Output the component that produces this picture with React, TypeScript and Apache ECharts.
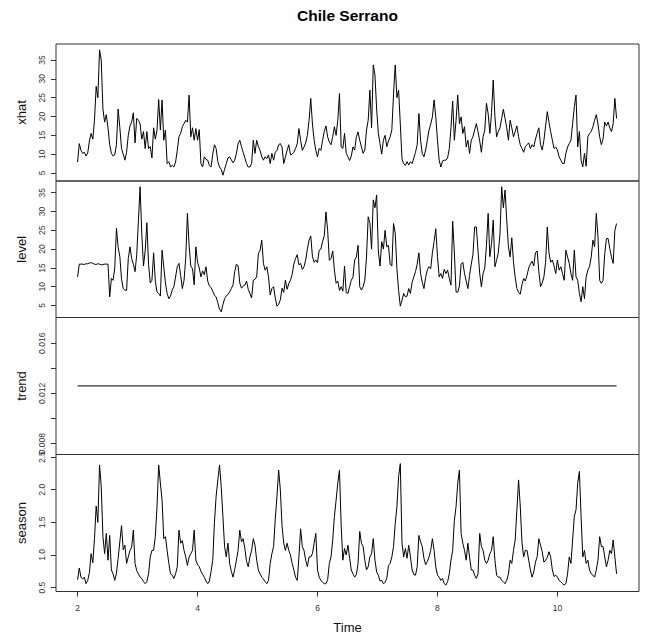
import React, { useEffect, useRef } from "react";
import * as echarts from "echarts";

// Time index: series start at t = 2, samples at ~1/35.5 year spacing
const START = 2;
const SAMPLES_PER_YEAR = 35.5;

const xhat = [
  7.9, 12.8, 11, 10.2, 10.5, 9.5, 10.3, 13.5, 15.5, 14, 19, 28, 25, 37.7, 35, 22, 18.5, 20.5, 17, 12.5, 10.2, 9.5, 9.8, 12.5, 22, 17, 11.5, 10, 8.4, 10.5, 15, 17.5, 18.5, 21, 13, 19.5,
  19, 18, 14, 16, 11.5, 16, 11.5, 12, 9, 17, 14, 16.4, 24.5, 16.4, 24.4, 13.7, 16.4, 7.5, 8, 6.6, 7, 6.6, 7.9, 11, 14.6, 15.5, 17.3, 18.1, 19, 18.5, 25.7, 14.6, 17, 13.7, 16.8, 13.7,
  16.5, 7.5, 6.6, 9.3, 8.6, 8.4, 7, 6.6, 10, 12.5, 11.5, 8, 6.6, 6, 4.4, 6, 7.5, 9, 9.3, 8.5, 7.7, 8.4, 10.2, 12.8, 13.7, 12, 10.5, 9, 7.5, 6.6, 6.6, 7.5, 13.7, 10.2, 13.7, 12,
  11, 9.3, 8.4, 9.3, 8.8, 9.8, 7.5, 10.2, 8.4, 10.5, 11, 12.5, 12.8, 11.9, 7.5, 9.3, 11, 12.5, 9.8, 10, 10.5, 11.5, 12.8, 16.8, 13.7, 11, 11.9, 13, 15, 19, 24.8, 18, 13.7, 11, 9.3, 11.5,
  11, 13.7, 16, 17.5, 14.6, 13.2, 12.5, 14.6, 17.3, 15, 19, 26.1, 11.9, 11.5, 15.5, 10.2, 9.3, 8.3, 9.5, 11.9, 11.1, 14.6, 15.9, 13.7, 11.9, 10.2, 11.1, 16.4, 19, 27, 17, 33.7, 31, 22, 15.5, 12.8,
  10, 13.7, 15, 12, 13.5, 14.6, 16.5, 26, 33.7, 25, 27, 18, 8.7, 7.5, 7, 8, 7.1, 8, 7.5, 9, 10.5, 12.5, 20.8, 13.7, 10.2, 9.3, 11.1, 13.7, 16.4, 18, 19.9, 24.4, 19.9, 13.7, 8.4, 6.6,
  8.2, 8.4, 8.4, 9, 11.5, 17, 24.1, 13.7, 19, 25.7, 18.1, 19.9, 15.5, 17.3, 11.9, 13.7, 10.2, 13.7, 14.6, 16.4, 18.1, 16, 13.5, 10.5, 14.6, 16.4, 23.5, 20.8, 15.5, 21, 29.7, 20, 14.6, 16, 17, 19.5,
  21.9, 19.5, 17, 13.7, 19, 17, 14.6, 16, 17.5, 14.6, 12.5, 11.5, 10.5, 12, 12.5, 13, 11.5, 12.5, 11.9, 14, 15.5, 17, 12.5, 11.1, 13.7, 17.5, 21.3, 18.5, 16, 13.7, 11.5, 11.9, 11.1, 9.3, 8.4, 7.5,
  7.5, 10.2, 11.9, 12.8, 13.7, 18.1, 22.6, 25.7, 11.9, 16, 8.4, 6.6, 10.2, 6.8, 14.6, 15.5, 16, 17.3, 19, 20.5, 18, 14.6, 12.5, 14, 18.5, 17.5, 18.5, 17, 16, 18.1, 24.8, 19.5,
];

const level = [
  12.6, 16, 16, 16, 15.9, 16.1, 16.1, 16.3, 16.4, 16.2, 16, 15.9, 16.1, 16, 15.8, 15.9, 16, 16, 16, 7.3, 12.2, 11.7, 15, 25.5, 20.5, 18, 12, 9.5, 9.1, 9, 17.5, 20.6, 17.5, 16, 14, 18.5,
  27.5, 36.6, 24, 15.5, 19.5, 27, 16, 11, 11.7, 19, 11.5, 8.6, 8.2, 7.5, 19.7, 15.3, 11, 8.2, 6.8, 7.5, 9.1, 10, 12.6, 15.3, 16.2, 13, 9.5, 11.7, 17.5, 29.5, 21, 15.5, 14.8, 10.5, 20.6, 16.5,
  15, 12.6, 14.2, 13.2, 15.3, 11.5, 10.2, 9.7, 8.8, 7.7, 7.3, 5.7, 4, 3.3, 5.2, 6.8, 7.5, 8, 8.6, 9.5, 10.5, 14, 16, 15.5, 11, 9.6, 10.2, 10.4, 11.5, 9.3, 8.2, 7, 11.7, 12, 12.6, 18.8,
  19.7, 22.4, 16.2, 14.4, 15.3, 12.6, 7.8, 9.5, 10, 7, 4.8, 5.3, 6.5, 9.6, 8.5, 11.7, 9.3, 10.8, 11.7, 13.3, 16, 17.5, 18.5, 15.8, 16.2, 14.6, 15.3, 17.1, 20, 22.4, 23.5, 18, 16.5, 17.1, 16.4, 19.7,
  20, 22, 23.5, 29.9, 25, 17, 17.5, 19.5, 14.4, 10.9, 11.5, 9, 10, 8.8, 15.5, 8.4, 8.2, 10, 11.7, 12.6, 17.1, 17.9, 21, 10, 9.1, 10, 11.7, 17.9, 28.6, 27, 20, 33.1, 31, 34.4, 19.5, 15.5,
  22, 20, 25, 20.6, 21, 16, 15.5, 26.8, 24.2, 14.8, 9, 4.8, 6.4, 8.2, 7.3, 7.5, 9.5, 8.2, 11.2, 12.6, 14, 16, 19, 13.5, 11.2, 9.5, 12.5, 14.5, 15.3, 14.8, 19, 22, 25.4, 18, 12.6, 13.5,
  12.2, 14.6, 13.5, 14.4, 12.2, 10.4, 27.4, 19, 8.6, 8.5, 10.2, 16, 16.5, 13.5, 11.5, 9.5, 13, 16, 18.5, 25.9, 25.9, 19.5, 13.5, 10, 13.5, 15, 21, 29.5, 18, 21.5, 27.7, 15.3, 17, 19, 24, 36.6,
  31, 35.7, 27.7, 20.6, 17.9, 23, 16.5, 12.5, 9.5, 8.5, 8, 10.5, 12.2, 11.5, 13, 15, 16, 16.8, 15.5, 19, 19.5, 14, 10, 11, 12.6, 16.5, 25.9, 19, 16.5, 17.1, 15.5, 13.5, 17.1, 14.4, 15.3, 13.5,
  11.7, 19.7, 17.9, 16.2, 13.5, 11.7, 19.7, 12.6, 11.7, 8.2, 6, 10, 6.8, 12.6, 14.4, 15.3, 17.9, 22.4, 20.6, 29.5, 23.3, 11.7, 10.9, 11.7, 18.8, 22.8, 22.8, 20.1, 17.9, 16.2, 25, 26.8,
];

const season = [
  0.62, 0.8, 0.66, 0.63, 0.66, 0.56, 0.61, 0.73, 1.02, 0.88, 1.25, 1.75, 1.5, 2.38, 2.05, 1.28, 1.02, 1.33, 0.92, 1.3, 0.77, 0.71, 0.61, 0.72, 0.95, 1.2, 1.45, 1.08, 1.15, 0.87, 0.97, 1.07, 1.12, 1.38, 0.87, 0.76,
  0.71, 0.66, 0.64, 0.59, 0.56, 0.59, 0.71, 0.97, 1.07, 1.07, 1.28, 1.74, 2.38, 2.1, 1.84, 1.25, 1.28, 1.07, 0.87, 0.71, 0.69, 0.64, 0.71, 0.82, 1.38, 1.18, 1.22, 1.07, 0.97, 0.84, 0.97, 1.02, 1.07, 1.38, 0.92, 0.85,
  0.82, 0.75, 0.7, 0.66, 0.6, 0.56, 0.6, 0.75, 0.92, 1.5, 1.9, 2.15, 2.38, 2.05, 1.59, 1.13, 0.97, 1.18, 0.87, 0.75, 0.66, 0.78, 0.92, 1.07, 1.38, 1.2, 1.25, 1.1, 0.9, 0.82, 0.97, 1.07, 1.25, 1.15, 0.92, 0.77,
  0.71, 0.66, 0.63, 0.59, 0.56, 0.61, 0.87, 1.02, 1.13, 1.55, 1.9, 2.3, 2.0, 1.45, 1.18, 1.07, 1.18, 1.07, 1.0, 0.87, 0.77, 0.66, 0.61, 0.97, 1.4, 1.13, 1.07, 0.92, 0.82, 0.97, 0.97, 1.02, 1.18, 1.33, 0.77, 0.66,
  0.61, 0.58, 0.56, 0.56, 0.62, 0.87, 0.97, 1.23, 1.59, 1.84, 2.1, 2.3, 1.45, 0.92, 1.1, 1.0, 1.15, 0.95, 0.77, 0.71, 0.66, 0.7, 0.87, 1.36, 1.18, 1.13, 0.92, 0.77, 0.82, 0.97, 1.02, 1.25, 0.92, 0.74, 0.69, 0.6,
  0.61, 0.56, 0.58, 0.64, 0.84, 0.87, 0.97, 1.13, 1.48, 1.74, 2.2, 2.4, 1.18, 0.97, 1.1, 0.95, 1.15, 0.97, 0.77, 0.7, 0.69, 0.82, 1.3, 1.2, 1.13, 0.95, 0.85, 0.9, 0.97, 1.07, 1.25, 1.07, 0.82, 0.69, 0.66, 0.61,
  0.64, 0.56, 0.54, 0.59, 0.71, 0.92, 1.07, 1.53, 1.74, 2.1, 2.3, 1.33, 1.18, 1.07, 0.92, 1.18, 0.97, 0.77, 0.77, 0.69, 0.64, 0.71, 1.33, 1.13, 1.07, 0.92, 0.87, 0.92, 1.02, 1.07, 1.28, 0.92, 0.69, 0.66, 0.66, 0.61,
  0.59, 0.56, 0.61, 0.71, 0.92, 0.87, 1.07, 1.23, 1.69, 2.15, 1.75, 1.2, 0.97, 1.07, 1.07, 0.92, 0.77, 0.66, 0.74, 0.89, 0.97, 1.25, 1.15, 1.05, 0.89, 0.92, 0.96, 1.05, 0.97, 0.77, 0.67, 0.69, 0.66, 0.61, 0.59, 0.56,
  0.54, 0.56, 0.71, 0.97, 0.87, 1.23, 1.59, 1.69, 2.1, 2.28, 1.59, 0.97, 1.07, 0.87, 0.92, 0.77, 0.71, 0.69, 0.66, 0.77, 0.92, 1.28, 1.13, 1.13, 0.97, 0.82, 0.92, 1.07, 1.02, 1.23, 0.97, 0.71,
];

const trendValue = 0.0126;

const xTicks = [2, 4, 6, 8, 10];
const xhatTicks = [5, 10, 15, 20, 25, 30, 35];
const levelTicks = [5, 10, 15, 20, 25, 30, 35];
const trendTicks = [0.008, 0.01, 0.012, 0.014, 0.016];
const trendLabels = [0.008, 0.012, 0.016];
const seasonTicks = [0.5, 1.0, 1.5, 2.0, 2.5];

const panelNames = ["xhat", "level", "trend", "season"];
const title = "Chile Serrano";
const xName = "Time";

const FONT = "'Liberation Sans', Arial, Helvetica, sans-serif";

function toTs(values: number[]) {
  return values.map((v, i) => [START + i / SAMPLES_PER_YEAR, v]);
}

export default function App() {
  const ref = useRef<HTMLDivElement>(null);

  useEffect(() => {
    if (!ref.current) return;
    const chart = echarts.init(ref.current, undefined, { renderer: "svg" });

    const n = xhat.length;
    const tEnd = START + (n - 1) / SAMPLES_PER_YEAR;
    const trendData = [
      [START, trendValue],
      [tEnd, trendValue],
    ];

    const panels = [
      { top: 44, height: 137, min: 2.87, max: 39.26, ticks: xhatTicks, labels: xhatTicks, fmt: (v: number) => String(v), data: toTs(xhat) },
      { top: 181, height: 136.5, min: 1.8, max: 38.12, ticks: levelTicks, labels: levelTicks, fmt: (v: number) => String(v), data: toTs(level) },
      { top: 317.5, height: 137, min: 0.00714, max: 0.01805, ticks: trendTicks, labels: trendLabels, fmt: (v: number) => v.toFixed(3), data: trendData },
      { top: 454.5, height: 137, min: 0.44, max: 2.54, ticks: seasonTicks, labels: seasonTicks, fmt: (v: number) => v.toFixed(1), data: toTs(season) },
    ];

    const axisColor = "#333";

    const option: any = {
      animation: false,
      backgroundColor: "#ffffff",
      grid: panels.map((p) => ({
        left: 56,
        width: 583,
        top: p.top,
        height: p.height,
        show: true,
        borderColor: axisColor,
        borderWidth: 1,
        backgroundColor: "transparent",
      })),
      xAxis: panels.map((p, i) => ({
        type: "value",
        gridIndex: i,
        min: 1.64,
        max: 11.36,
        axisLine: { show: false },
        splitLine: { show: false },
        axisTick: {
          show: i === 3,
          customValues: xTicks,
          length: 5,
          lineStyle: { color: axisColor, width: 1 },
        },
        axisLabel: {
          show: i === 3,
          customValues: xTicks,
          margin: 12,
          fontSize: 8.5,
          fontFamily: FONT,
          color: "#333",
        },
      })),
      yAxis: panels.map((p, i) => ({
        type: "value",
        gridIndex: i,
        min: p.min,
        max: p.max,
        axisLine: { show: false },
        splitLine: { show: false },
        axisTick: {
          show: true,
          customValues: p.ticks,
          length: 5,
          lineStyle: { color: axisColor, width: 1 },
        },
        axisLabel: {
          show: true,
          customValues: p.labels,
          rotate: 90,
          margin: 10,
          fontSize: 8.5,
          fontFamily: FONT,
          color: "#333",
          formatter: p.fmt,
        },
        name: panelNames[i],
        nameLocation: "middle",
        nameRotate: 90,
        nameGap: 28,
        nameTextStyle: { fontSize: 13, fontFamily: FONT, color: "#111" },
      })),
      series: panels.map((p, i) => ({
        type: "line",
        xAxisIndex: i,
        yAxisIndex: i,
        data: p.data,
        showSymbol: false,
        symbol: "none",
        silent: true,
        lineStyle: { color: "#000", width: 1 },
      })),
      graphic: [
        {
          type: "text",
          x: 347.5,
          y: 15.5,
          style: {
            text: title,
            fontSize: 15.5,
            fontWeight: "bold",
            fontFamily: FONT,
            fill: "#000",
            align: "center",
            verticalAlign: "middle",
            textAlign: "center",
            textVerticalAlign: "middle",
          },
        },
        {
          type: "text",
          x: 347.5,
          y: 627,
          style: {
            text: xName,
            fontSize: 13,
            fontFamily: FONT,
            fill: "#111",
            align: "center",
            verticalAlign: "middle",
            textAlign: "center",
            textVerticalAlign: "middle",
          },
        },
      ],
    };

    chart.setOption(option);
    return () => chart.dispose();
  }, []);

  return (
    <div
      ref={ref}
      style={{ position: "absolute", left: 0, top: 0, width: 651, height: 636, background: "#fff" }}
    />
  );
}
